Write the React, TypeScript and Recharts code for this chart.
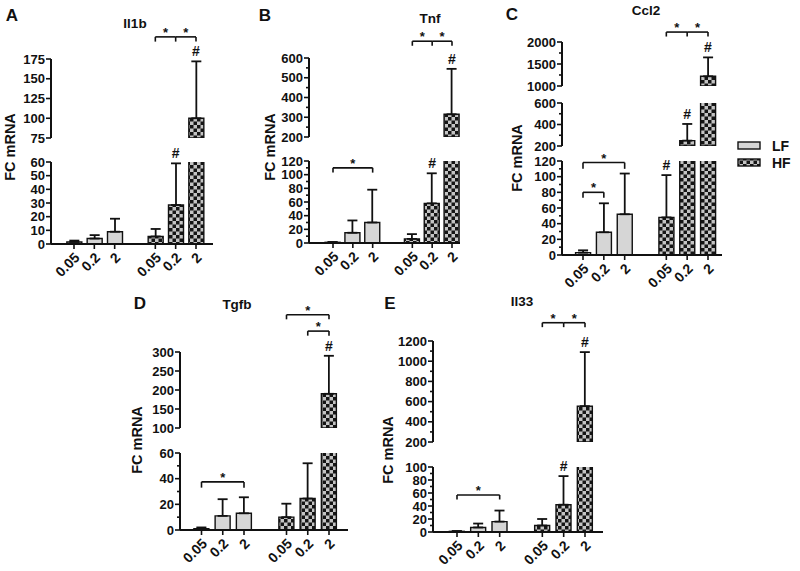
import React from 'react';
import { BarChart, Bar, XAxis, YAxis, ErrorBar, ReferenceLine, ReferenceDot, Cell } from 'recharts';

const FONT = '"Liberation Sans", Arial, sans-serif';
const INK = '#111';

// x categories (the 'gap' slot separates the LF and HF groups)
const categories = ['LF 0.05', 'LF 0.2', 'LF 2', 'gap', 'HF 0.05', 'HF 0.2', 'HF 2'];
const doseLabels = ['0.05', '0.2', '2', '', '0.05', '0.2', '2'];
const barCats = ['LF 0.05', 'LF 0.2', 'LF 2', 'HF 0.05', 'HF 0.2', 'HF 2'];

// Il1b
const il1bMean = [1.5, 4, 9, 5.5, 28.5, 100];
const il1bSd = [1, 2.5, 9.5, 5.5, 30.5, 72];
const il1bHash = ['HF 0.2', 'HF 2'];
const il1bLowTicks = [0, 10, 20, 30, 40, 50, 60];
const il1bHighTicks = [75, 100, 125, 150, 175];

// Tnf
const tnfMean = [1, 15, 30, 6, 58, 315];
const tnfSd = [0.5, 18, 48, 7, 44, 230];
const tnfHash = ['HF 0.2', 'HF 2'];
const tnfLowTicks = [0, 20, 40, 60, 80, 100, 120];
const tnfLowMinor = [10, 30, 50, 70, 90, 110];
const tnfHighTicks = [200, 300, 400, 500, 600];
const tnfHighMinor = [250, 350, 450, 550];

// Ccl2
const ccl2Mean = [3, 29, 52, 48, 250, 1220];
const ccl2Sd = [3, 37, 52, 54, 155, 430];
const ccl2Hash = ['HF 0.05', 'HF 0.2', 'HF 2'];
const ccl2LowTicks = [0, 20, 40, 60, 80, 100, 120];
const ccl2LowMinor = [10, 30, 50, 70, 90, 110];
const ccl2MidTicks = [200, 400, 600];
const ccl2MidMinor = [300, 500];
const ccl2HighTicks = [1000, 1500, 2000];
const ccl2HighMinor = [1250, 1750];

// Tgfb
const tgfbMean = [1, 11, 13, 10, 24.5, 190];
const tgfbSd = [1, 13, 12.5, 10.5, 27.5, 100];
const tgfbHash = ['HF 2'];
const tgfbLowTicks = [0, 20, 40, 60];
const tgfbLowMinor = [10, 30, 50];
const tgfbHighTicks = [100, 150, 200, 250, 300];

// Il33
const il33Mean = [1, 7, 16, 10, 42, 555];
const il33Sd = [0.5, 6, 17, 10, 44, 535];
const il33Hash = ['HF 0.2', 'HF 2'];
const il33LowTicks = [0, 20, 40, 60, 80, 100];
const il33LowMinor = [10, 30, 50, 70, 90];
const il33HighTicks = [200, 400, 600, 800, 1000, 1200];
const il33HighMinor = [300, 500, 700, 900, 1100];

type Seg = { min: number; max: number; top: number; bottom: number; ticks: number[]; minor: number[] };
type Bracket = { seg: number; cats: string[]; y: number; drop: number };
type Panel = {
  letter: string;
  title: string;
  mean: number[];
  sd: number[];
  hash: string[];
  axisX: number;
  xEnd: number;
  c0: number;
  c6: number;
  letterPos: [number, number];
  titlePos: [number, number];
  ylabPos: [number, number];
  segs: Seg[];
  brackets: Bracket[];
};

const panels: Panel[] = [
  {
    letter: 'A', title: 'Il1b', mean: il1bMean, sd: il1bSd, hash: il1bHash,
    axisX: 51, xEnd: 213, c0: 74, c6: 196,
    letterPos: [12, 15], titlePos: [135, 24], ylabPos: [10, 147],
    segs: [
      { min: 0, max: 60, top: 162, bottom: 244, ticks: il1bLowTicks, minor: [] },
      { min: 75, max: 175, top: 59, bottom: 138, ticks: il1bHighTicks, minor: [] },
    ],
    brackets: [{ seg: 1, cats: ['HF 0.05', 'HF 0.2', 'HF 2'], y: 203, drop: 197 }],
  },
  {
    letter: 'B', title: 'Tnf', mean: tnfMean, sd: tnfSd, hash: tnfHash,
    axisX: 309, xEnd: 460, c0: 333, c6: 452,
    letterPos: [265, 15], titlePos: [430, 19], ylabPos: [270, 147],
    segs: [
      { min: 0, max: 120, top: 161, bottom: 243, ticks: tnfLowTicks, minor: tnfLowMinor },
      { min: 200, max: 600, top: 58, bottom: 137, ticks: tnfHighTicks, minor: tnfHighMinor },
    ],
    brackets: [
      { seg: 1, cats: ['HF 0.05', 'HF 0.2', 'HF 2'], y: 685, drop: 662 },
      { seg: 0, cats: ['LF 0.05', 'LF 2'], y: 110, drop: 103 },
    ],
  },
  {
    letter: 'C', title: 'Ccl2', mean: ccl2Mean, sd: ccl2Sd, hash: ccl2Hash,
    axisX: 562, xEnd: 722, c0: 583, c6: 708,
    letterPos: [512, 14], titlePos: [646, 11], ylabPos: [517, 158],
    segs: [
      { min: 0, max: 120, top: 161, bottom: 255, ticks: ccl2LowTicks, minor: ccl2LowMinor },
      { min: 200, max: 600, top: 103, bottom: 146, ticks: ccl2MidTicks, minor: ccl2MidMinor },
      { min: 1000, max: 2000, top: 42, bottom: 86, ticks: ccl2HighTicks, minor: ccl2HighMinor },
    ],
    brackets: [
      { seg: 2, cats: ['HF 0.05', 'HF 0.2', 'HF 2'], y: 2226, drop: 2124 },
      { seg: 0, cats: ['LF 0.05', 'LF 2'], y: 118, drop: 110 },
      { seg: 0, cats: ['LF 0.05', 'LF 0.2'], y: 80, drop: 73 },
    ],
  },
  {
    letter: 'D', title: 'Tgfb', mean: tgfbMean, sd: tgfbSd, hash: tgfbHash,
    axisX: 180, xEnd: 348, c0: 201.5, c6: 329,
    letterPos: [140, 303], titlePos: [237, 305], ylabPos: [137, 440],
    segs: [
      { min: 0, max: 60, top: 453, bottom: 530, ticks: tgfbLowTicks, minor: tgfbLowMinor },
      { min: 100, max: 300, top: 352, bottom: 428, ticks: tgfbHighTicks, minor: [] },
    ],
    brackets: [
      { seg: 1, cats: ['HF 0.05', 'HF 2'], y: 398, drop: 386 },
      { seg: 1, cats: ['HF 0.2', 'HF 2'], y: 355, drop: 343 },
      { seg: 0, cats: ['LF 0.05', 'LF 2'], y: 37.5, drop: 33 },
    ],
  },
  {
    letter: 'E', title: 'Il33', mean: il33Mean, sd: il33Sd, hash: il33Hash,
    axisX: 433, xEnd: 603, c0: 457, c6: 585,
    letterPos: [390, 303], titlePos: [522, 302], ylabPos: [388, 450],
    segs: [
      { min: 0, max: 100, top: 467, bottom: 532, ticks: il33LowTicks, minor: il33LowMinor },
      { min: 200, max: 1200, top: 341, bottom: 442, ticks: il33HighTicks, minor: il33HighMinor },
    ],
    brackets: [
      { seg: 1, cats: ['HF 0.05', 'HF 0.2', 'HF 2'], y: 1381, drop: 1337 },
      { seg: 0, cats: ['LF 0.05', 'LF 2'], y: 57, drop: 50 },
    ],
  },
];

const YTick = (props: any) => {
  const { x, y, payload, minor } = props;
  const isMinor = minor.includes(payload.value);
  return (
    <g>
      <line x1={x - (isMinor ? 3 : 5)} x2={x} y1={y} y2={y} stroke={INK} strokeWidth={1.6} />
      {!isMinor && (
        <text x={x - 6} y={y} dy="0.36em" textAnchor="end" fontFamily={FONT} fontWeight="bold" fontSize={13} fill={INK}>
          {payload.value}
        </text>
      )}
    </g>
  );
};

const XTick = (props: any) => {
  const { x, y, index } = props;
  const label = doseLabels[index];
  if (!label) return null;
  return (
    <g transform={`translate(${x},${y})`}>
      <line x1={0} x2={0} y1={0} y2={5} stroke={INK} strokeWidth={1.6} />
      <text x={0} y={0} transform="translate(3,11) rotate(-45)" dy="0.36em" textAnchor="end" fontFamily={FONT} fontWeight="bold" fontSize={14} fill={INK}>
        {label}
      </text>
    </g>
  );
};

const Y_W = 50;
const M_TOP = 60;
const M_RIGHT = 20;
const M_BOTTOM = 12;
const X_H = 60;

function Segment({ panel, segIndex }: { panel: Panel; segIndex: number }) {
  const seg = panel.segs[segIndex];
  const isBottom = segIndex === 0;
  const plotW = panel.xEnd - panel.axisX;
  const plotH = seg.bottom - seg.top;
  const band = (panel.c6 - panel.c0) / 6;
  const padL = panel.c0 - panel.axisX - band / 2;
  const padR = panel.xEnd - panel.c6 - band / 2;

  const rows = categories.map((cat) => {
    const bi = barCats.indexOf(cat);
    if (bi < 0) return { cat, v: null, err: null };
    const m = panel.mean[bi];
    const s = panel.sd[bi];
    return {
      cat,
      v: m > seg.min ? m : null,
      err: m > seg.min && m <= seg.max ? [0, s] : null,
    };
  });

  const hashes = panel.hash.filter((cat) => {
    const m = panel.mean[barCats.indexOf(cat)];
    return m > seg.min && m <= seg.max;
  });

  const brackets = panel.brackets.filter((b) => b.seg === segIndex);
  const lineStyle = { stroke: INK, strokeWidth: 1.6 };

  return (
    <div style={{ position: 'absolute', left: panel.axisX - Y_W, top: seg.top - M_TOP }}>
      <BarChart
        width={Y_W + plotW + M_RIGHT}
        height={M_TOP + plotH + (isBottom ? X_H : M_BOTTOM)}
        data={rows}
        margin={{ top: M_TOP, right: M_RIGHT, left: 0, bottom: isBottom ? 0 : M_BOTTOM }}
      >
        <XAxis
          dataKey="cat"
          type="category"
          hide={!isBottom}
          height={X_H}
          interval={0}
          padding={{ left: padL, right: padR }}
          tickSize={0}
          tickMargin={0}
          tickLine={false}
          axisLine={{ stroke: INK, strokeWidth: 2 }}
          tick={<XTick />}
        />
        <YAxis
          type="number"
          domain={[seg.min, seg.max]}
          allowDataOverflow
          ticks={[...seg.ticks, ...seg.minor].sort((a, b) => a - b)}
          interval={0}
          width={Y_W}
          tickSize={0}
          tickMargin={0}
          tickLine={false}
          axisLine={{ stroke: INK, strokeWidth: 2 }}
          tick={<YTick minor={seg.minor} />}
        />
        <Bar dataKey="v" barSize={15} stroke={INK} strokeWidth={1.4} isAnimationActive={false}>
          {rows.map((r, i) => (
            <Cell key={i} fill={r.cat.startsWith('HF') ? 'url(#checker)' : '#d6d6d6'} />
          ))}
          <ErrorBar dataKey="err" width={5} stroke={INK} strokeWidth={1.8} isAnimationActive={false} />
        </Bar>
        {hashes.map((cat) => {
          const bi = barCats.indexOf(cat);
          return (
            <ReferenceDot
              key={'h' + cat}
              x={cat}
              y={panel.mean[bi] + panel.sd[bi]}
              r={0}
              ifOverflow="visible"
              label={{ value: '#', position: 'top', offset: 5, fontSize: 14, fontWeight: 'bold', fill: INK, fontFamily: FONT }}
            />
          );
        })}
        {brackets.map((b, bi) => (
          <React.Fragment key={'b' + bi}>
            {b.cats.slice(0, -1).map((c, k) => (
              <ReferenceLine
                key={'bh' + k}
                segment={[{ x: c, y: b.y }, { x: b.cats[k + 1], y: b.y }]}
                position="middle"
                ifOverflow="visible"
                {...lineStyle}
                label={{ value: '*', position: 'top', offset: 0, fontSize: 13, fontWeight: 'bold', fill: INK, fontFamily: FONT }}
              />
            ))}
            {b.cats.map((c, k) => (
              <ReferenceLine
                key={'bv' + k}
                segment={[{ x: c, y: b.y }, { x: c, y: b.drop }]}
                position="middle"
                ifOverflow="visible"
                {...lineStyle}
              />
            ))}
          </React.Fragment>
        ))}
      </BarChart>
    </div>
  );
}

const textBase: React.CSSProperties = {
  position: 'absolute',
  fontFamily: FONT,
  fontWeight: 'bold',
  color: INK,
  whiteSpace: 'nowrap',
  lineHeight: 1,
};

export default function App() {
  return (
    <div style={{ position: 'absolute', left: 0, top: 0, width: 800, height: 571, background: '#fff', overflow: 'hidden' }}>
      <svg width={0} height={0} style={{ position: 'absolute' }}>
        <defs>
          <pattern id="checker" width={7} height={7} patternUnits="userSpaceOnUse">
            <rect width={7} height={7} fill="#c4c4c4" />
            <rect width={3.5} height={3.5} fill="#151515" />
            <rect x={3.5} y={3.5} width={3.5} height={3.5} fill="#151515" />
          </pattern>
        </defs>
      </svg>
      {panels.map((p) => (
        <React.Fragment key={p.letter}>
          {p.segs.map((_, si) => (
            <Segment key={si} panel={p} segIndex={si} />
          ))}
          <div style={{ ...textBase, left: p.letterPos[0], top: p.letterPos[1], fontSize: 17, transform: 'translate(-50%,-50%)' }}>
            {p.letter}
          </div>
          <div style={{ ...textBase, left: p.titlePos[0], top: p.titlePos[1], fontSize: 13.5, transform: 'translate(-50%,-50%)' }}>
            {p.title}
          </div>
          <div style={{ ...textBase, left: p.ylabPos[0], top: p.ylabPos[1], fontSize: 14.5, transform: 'translate(-50%,-50%) rotate(-90deg)' }}>
            FC mRNA
          </div>
        </React.Fragment>
      ))}
      <svg width={70} height={45} style={{ position: 'absolute', left: 736, top: 136 }}>
        <rect x={2} y={6} width={22} height={7} fill="#d6d6d6" stroke={INK} strokeWidth={1.4} />
        <rect x={2} y={23} width={22} height={7} fill="url(#checker)" stroke={INK} strokeWidth={1.4} />
        <text x={36} y={10} dy="0.36em" fontFamily={FONT} fontWeight="bold" fontSize={14} fill={INK}>LF</text>
        <text x={36} y={27} dy="0.36em" fontFamily={FONT} fontWeight="bold" fontSize={14} fill={INK}>HF</text>
      </svg>
    </div>
  );
}
